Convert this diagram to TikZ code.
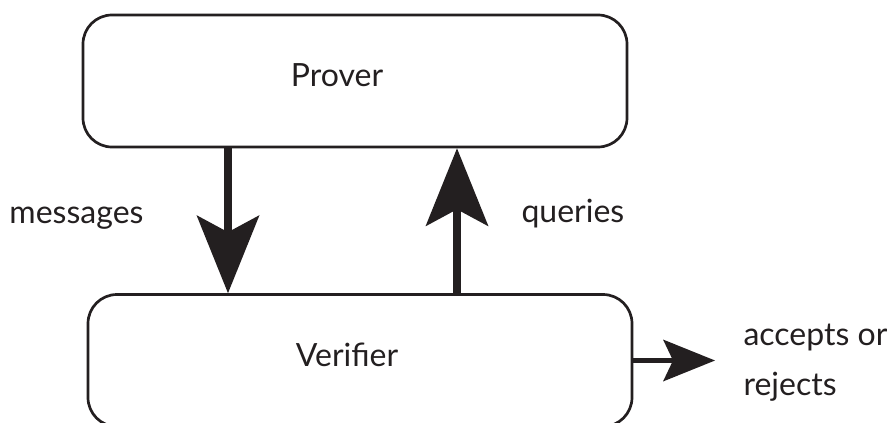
\documentclass[tikz,border=0pt]{standalone}
\usepackage{fontspec}
\setmainfont{Lato}
\usetikzlibrary{arrows.meta,positioning}

\definecolor{ink}{RGB}{35,31,32}

\begin{document}
\begin{tikzpicture}[x=1pt,
            y=-1pt,
            ink,
            font=\fontsize{32}{50}\selectfont,
            party/.style={draw,
                          line width=2.7pt,
                          rounded corners=29pt,
                          minimum width=544pt,
                          minimum height=132pt,
                          inner sep=0pt},
            flow/.style={line width=8pt,
                         -{Stealth[length=78pt,width=63pt,inset=17pt,line width=0pt]}},
            verdict/.style={line width=5pt,
                            -{Stealth[length=52pt,width=42pt,inset=10pt,line width=0pt]}}]

        \useasboundingbox (0,0) rectangle (887,423);

        % the two parties
        \node[party, label={[xshift=-18pt,yshift=6pt]center:Prover}]   (prover)   at (355,81)    {};
        \node[party, label={[xshift=-13pt,yshift=6pt]center:Verifier}] (verifier) at (360,360.5) {};

        % where the arrows run
        \coordinate (msgx)   at (228,0);
        \coordinate (qryx)   at (457,0);
        \coordinate (decide) at (715,0);

        \draw[flow]    (prover.south -| msgx)   -- (verifier.north -| msgx);
        \draw[flow]    (verifier.north -| qryx) -- (prover.south -| qryx);
        \draw[verdict] (verifier.east)          -- (verifier.east -| decide);

        % labels (base of a two-line node is its last line)
        \node[anchor=base east]             (msg) at (147,223) {messages};
        \node[anchor=base west]             (qry) at (518,222) {queries};
        \node[anchor=base west, align=left] (out) at (740,395) {accepts or\\rejects};

    \end{tikzpicture}
\end{document}
